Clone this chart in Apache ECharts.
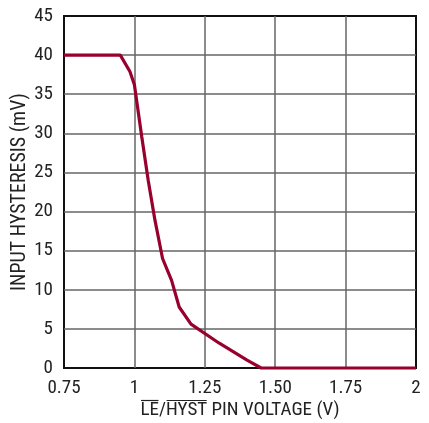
<!DOCTYPE html>
<html><head><meta charset="utf-8">
<script src="https://cdn.jsdelivr.net/npm/echarts@6/dist/echarts.min.js"></script>
<style>html,body{margin:0;padding:0;background:#fff}#c{width:429px;height:423px}</style>
</head><body><div id="c"></div>
<script>
const voltage = [0.75, 0.95, 0.984, 1.0, 1.026, 1.049, 1.073, 1.10, 1.132, 1.159, 1.201, 1.30, 1.40, 1.45, 2.0];
const hysteresis = [40, 40, 37.9, 36.2, 29.6, 24.0, 18.9, 14.0, 11.2, 7.8, 5.6, 3.2, 1.0, 0, 0];
const xTickLabels = ["0.75", "1", "1.25", "1.50", "1.75", "2"];
const yTitle = "INPUT HYSTERESIS (mV)";
const xTitleParts = ["LE", "/", "HYST", " PIN VOLTAGE (V)"];

const FONT_FAMILY = '"Liberation Sans Narrow", "Roboto Condensed", "Arial Narrow", sans-serif';
const FS = 19;
const TFS = 19;
const YTFS = 20;
const chart = echarts.init(document.getElementById('c'), null, {renderer: 'canvas'});

const cv = document.createElement('canvas').getContext('2d');
cv.font = TFS + 'px ' + FONT_FAMILY;
const widths = xTitleParts.map(t => cv.measureText(t).width);
const total = widths.reduce((a, b) => a + b, 0);
const cx = 240, ty = 410;
let x0 = cx - total / 2;
const starts = [];
widths.forEach(w => { starts.push(x0); x0 += w; });
const olY = ty - 9.5;
const graphics = [
  {type: 'text', left: cx - total / 2, top: ty - TFS / 2, style: {text: xTitleParts.join(''), font: TFS + 'px ' + FONT_FAMILY, fill: '#222'}},
  {type: 'line', shape: {x1: starts[0] + 0.5, y1: olY, x2: starts[0] + widths[0] - 0.5, y2: olY}, style: {stroke: '#222', lineWidth: 1.2}},
  {type: 'line', shape: {x1: starts[2] + 0.5, y1: olY, x2: starts[2] + widths[2] - 0.5, y2: olY}, style: {stroke: '#222', lineWidth: 1.2}}
];

chart.setOption({
  animation: false,
  grid: {left: 64, right: 13, top: 16, bottom: 55, show: true, borderColor: '#111', borderWidth: 2, outerBoundsMode: 'none', containLabel: false},
  graphic: graphics,
  xAxis: {
    type: 'value', min: 0.75, max: 2, interval: 0.25,
    axisLine: {show: false}, axisTick: {show: false},
    splitLine: {show: true, showMinLine: false, showMaxLine: false, lineStyle: {color: '#666', width: 1.5}},
    axisLabel: {
      margin: 11, color: '#222', fontSize: FS, fontFamily: FONT_FAMILY,
      formatter: (v) => { const i = Math.round((v - 0.75) / 0.25); return xTickLabels[i] || ''; }
    }
  },
  yAxis: {
    type: 'value', min: 0, max: 45, interval: 5,
    name: yTitle, nameLocation: 'middle', nameGap: 34, nameMoveOverlap: false,
    nameTextStyle: {color: '#222', fontSize: YTFS, fontFamily: FONT_FAMILY},
    axisLine: {show: false}, axisTick: {show: false},
    splitLine: {show: true, showMinLine: false, showMaxLine: false, lineStyle: {color: '#666', width: 1.5}},
    axisLabel: {margin: 11, color: '#222', fontSize: FS, fontFamily: FONT_FAMILY}
  },
  series: [{
    type: 'line', data: voltage.map((v, i) => [v, hysteresis[i]]),
    showSymbol: false, symbol: 'none',
    lineStyle: {color: '#98002e', width: 3.2},
    clip: false
  }]
});
</script></body></html>
